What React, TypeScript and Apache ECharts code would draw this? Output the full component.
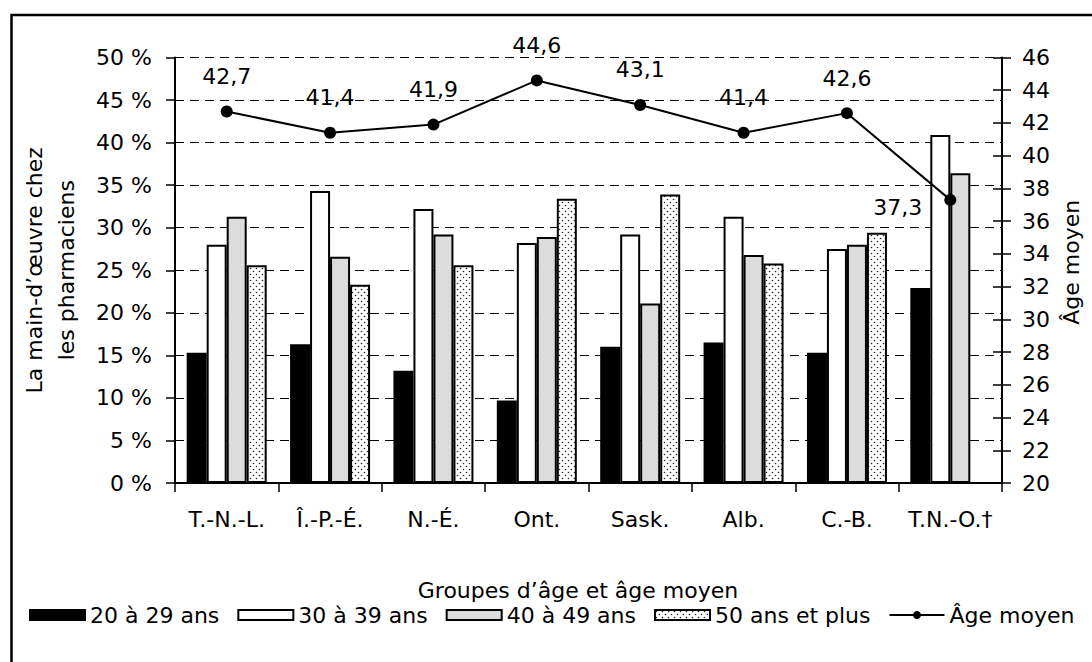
import React, { useEffect, useRef } from "react";
import * as echarts from "echarts";

const categories = ["T.-N.-L.", "Î.-P.-É.", "N.-É.", "Ont.", "Sask.", "Alb.", "C.-B.", "T.N.-O.†"];
const age20to29 = [15.3, 16.3, 13.2, 9.7, 16.0, 16.5, 15.3, 22.9];
const age30to39 = [28.0, 34.3, 32.2, 28.2, 29.2, 31.3, 27.5, 40.9];
const age40to49 = [31.3, 26.6, 29.2, 28.9, 21.1, 26.8, 28.0, 36.4];
const age50plus: (number | null)[] = [25.6, 23.3, 25.6, 33.4, 33.9, 25.8, 29.4, null];
const averageAge = [42.7, 41.4, 41.9, 44.6, 43.1, 41.4, 42.6, 37.3];

const seriesNames = ["20 à 29 ans", "30 à 39 ans", "40 à 49 ans", "50 ans et plus", "Âge moyen"];
const pctAxis = { min: 0, max: 50, step: 5 };
const ageAxis = { min: 20, max: 46, step: 2 };

const FONT = "DejaVu Sans";

function makeDotPattern() {
  const c = document.createElement("canvas");
  c.width = 6;
  c.height = 6;
  const ctx = c.getContext("2d")!;
  ctx.fillStyle = "#ffffff";
  ctx.fillRect(0, 0, 6, 6);
  ctx.fillStyle = "#222222";
  ctx.beginPath();
  ctx.arc(1.5, 1.5, 0.8, 0, Math.PI * 2);
  ctx.fill();
  ctx.beginPath();
  ctx.arc(4.5, 4.5, 0.8, 0, Math.PI * 2);
  ctx.fill();
  return { image: c, repeat: "repeat" as const };
}

export default function App() {
  const ref = useRef<HTMLDivElement>(null);
  useEffect(() => {
    if (!ref.current) return;
    const chart = echarts.init(ref.current, null, { renderer: "svg" });
    const barBase = { type: "bar", barWidth: 20, barGap: "0%", yAxisIndex: 0, z: 2 };
    const border = { borderColor: "#000", borderWidth: 2 };
    const lastIdx = averageAge.length - 1;
    const option: any = {
      animation: false,
      textStyle: { fontFamily: FONT, color: "#000" },
      graphic: [
        {
          type: "rect",
          z: -1,
          shape: { x: 11.5, y: 15, width: 1200, height: 700 },
          style: { fill: "none", stroke: "#000", lineWidth: 2.5 },
        },
      ],
      grid: { left: 175, right: 90, top: 57.5, bottom: 179 },
      legend: {
        left: 24,
        top: 599,
        width: 1066,
        itemWidth: 55,
        itemHeight: 10,
        itemGap: 18,
        textStyle: { fontFamily: FONT, fontSize: 22, color: "#000" },
        data: [
          { name: seriesNames[0], icon: "rect" },
          { name: seriesNames[1], icon: "rect" },
          { name: seriesNames[2], icon: "rect" },
          { name: seriesNames[3], icon: "rect" },
          { name: seriesNames[4] },
        ],
      },
      xAxis: {
        type: "category",
        data: categories,
        name: "Groupes d’âge et âge moyen",
        nameLocation: "middle",
        nameGap: 96,
        nameTextStyle: { fontFamily: FONT, fontSize: 22, color: "#000", padding: [0, 21, 0, 0] },
        axisLine: { lineStyle: { color: "#000", width: 2 } },
        axisTick: { show: true, length: 9, lineStyle: { color: "#000", width: 1.5 } },
        axisLabel: { interval: 0, margin: 25, fontFamily: FONT, fontSize: 22, color: "#000" },
      },
      yAxis: [
        {
          type: "value",
          position: "left",
          min: pctAxis.min,
          max: pctAxis.max,
          interval: pctAxis.step,
          name: "La main-d’œuvre chez\nles pharmaciens",
          nameLocation: "middle",
          nameRotate: 90,
          nameGap: 93,
          nameTextStyle: { fontFamily: FONT, fontSize: 22, lineHeight: 32, color: "#000" },
          axisLine: { show: true, lineStyle: { color: "#000", width: 2 } },
          axisTick: { show: true, length: 9, lineStyle: { color: "#000", width: 1.5 } },
          axisLabel: {
            margin: 23,
            fontFamily: FONT,
            fontSize: 22,
            color: "#000",
            formatter: (v: number) => `${v}\u00a0%`,
          },
          splitLine: { show: true, lineStyle: { color: "#000", width: 1, type: [9, 6] } },
        },
        {
          type: "value",
          position: "right",
          min: ageAxis.min,
          max: ageAxis.max,
          interval: ageAxis.step,
          name: "Âge moyen",
          nameLocation: "middle",
          nameRotate: 90,
          nameGap: 50,
          nameTextStyle: { fontFamily: FONT, fontSize: 22, color: "#000", padding: [0, 0, 0, 16] },
          axisLine: { show: true, lineStyle: { color: "#000", width: 2 } },
          axisTick: { show: true, length: 9, lineStyle: { color: "#000", width: 1.5 } },
          axisLabel: { margin: 20, fontFamily: FONT, fontSize: 22, color: "#000" },
          splitLine: { show: false },
        },
        {
          type: "value",
          position: "right",
          min: ageAxis.min,
          max: ageAxis.max,
          interval: ageAxis.step,
          axisLine: { show: false },
          axisTick: { show: true, inside: true, length: 9, lineStyle: { color: "#000", width: 1.5 } },
          axisLabel: { show: false },
          splitLine: { show: false },
        },
      ],
      series: [
        { ...barBase, name: seriesNames[0], data: age20to29, itemStyle: { color: "#000", ...border } },
        { ...barBase, name: seriesNames[1], data: age30to39, itemStyle: { color: "#fff", ...border } },
        { ...barBase, name: seriesNames[2], data: age40to49, itemStyle: { color: "#dcdcdc", ...border } },
        { ...barBase, name: seriesNames[3], data: age50plus, itemStyle: { color: makeDotPattern(), ...border } },
        {
          type: "line",
          name: seriesNames[4],
          yAxisIndex: 1,
          z: 5,
          data: averageAge.map((v, i) =>
            i === lastIdx ? { value: v, label: { position: "left", distance: 22, offset: [0, 8] } } : v
          ),
          symbol: "circle",
          symbolSize: 12,
          lineStyle: { color: "#000", width: 2 },
          itemStyle: { color: "#000" },
          label: {
            show: true,
            position: "top",
            distance: 18,
            fontFamily: FONT,
            fontSize: 22,
            color: "#000",
            formatter: (p: any) => String(p.value).replace(".", ","),
          },
        },
      ],
    };
    chart.setOption(option);
    return () => chart.dispose();
  }, []);
  return (
    <div
      ref={ref}
      style={{ position: "fixed", left: 0, top: 0, width: 1092, height: 662, background: "#fff" }}
    />
  );
}
